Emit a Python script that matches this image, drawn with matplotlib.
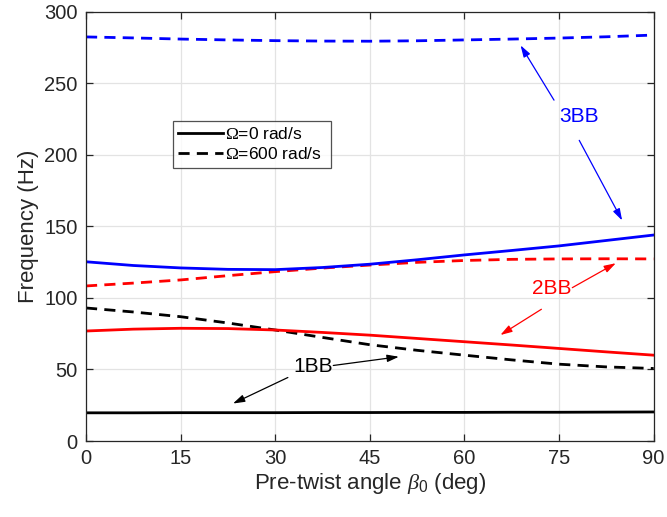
import numpy as np
import matplotlib
matplotlib.use("Agg")
import matplotlib.pyplot as plt

plt.rcParams['font.family'] = ['Liberation Sans', 'DejaVu Sans']
plt.rcParams['mathtext.fontset'] = 'custom'
plt.rcParams['mathtext.rm'] = 'Liberation Serif'
plt.rcParams['mathtext.sf'] = 'Liberation Sans'
plt.rcParams['mathtext.it'] = 'Liberation Serif:italic'

# pre-twist angle (deg)
beta = [0, 7.5, 15, 22.5, 30, 37.5, 45, 52.5, 60, 67.5, 75, 82.5, 90]

# natural frequencies (Hz), Omega = 0 rad/s
bb1_w0 = [19.7, 19.7, 19.8, 19.8, 19.8, 19.9, 19.9, 20.0, 20.0, 20.1, 20.1, 20.2, 20.3]
bb2_w0 = [76.9, 78.2, 78.8, 78.6, 77.6, 75.9, 74.0, 71.7, 69.4, 67.1, 64.7, 62.3, 60.0]
bb3_w0 = [125.3, 122.7, 121.0, 120.0, 119.8, 121.3, 123.6, 126.7, 130.1, 133.2, 136.4, 140.2, 144.0]

# natural frequencies (Hz), Omega = 600 rad/s
bb1_w600 = [93.0, 90.2, 86.9, 82.5, 77.6, 72.4, 67.3, 63.4, 60.0, 56.7, 53.7, 51.8, 50.7]
bb2_w600 = [108.4, 110.4, 112.6, 115.6, 118.4, 120.9, 123.0, 124.9, 126.2, 127.0, 127.3, 127.4, 127.3]
bb3_w600 = [282.5, 281.8, 281.0, 280.4, 279.9, 279.6, 279.5, 279.8, 280.4, 281.0, 281.7, 282.6, 283.8]

x_ticks = [0, 15, 30, 45, 60, 75, 90]
y_ticks = [0, 50, 100, 150, 200, 250, 300]

dark = '#262626'
lw = 2.0
dash = (0, (4, 2.6))

fig = plt.figure(figsize=(6.67, 5.17), dpi=100)
ax = fig.add_axes([0.129, 0.147, 0.851, 0.830])

# legend entries come from the 1BB pair (solid then dashed)
ax.plot(beta, bb1_w0, color='k', lw=lw, label=r'$\mathrm{\Omega}$=0 rad/s')
ax.plot(beta, bb1_w600, color='k', lw=lw, ls=dash, label=r'$\mathrm{\Omega}$=600 rad/s')
ax.plot(beta, bb2_w0, color='r', lw=lw)
ax.plot(beta, bb2_w600, color='r', lw=lw, ls=dash)
ax.plot(beta, bb3_w0, color='b', lw=lw)
ax.plot(beta, bb3_w600, color='b', lw=lw, ls=dash)

ax.set_xlim(0, 90)
ax.set_ylim(0, 300)
ax.set_xticks(x_ticks)
ax.set_yticks(y_ticks)
ax.grid(True, color='#e3e3e3', lw=0.9)
ax.set_axisbelow(True)
ax.tick_params(direction='in', top=True, right=True, length=5, width=0.9,
               colors=dark, labelsize=14.5, pad=6)
for sp in ax.spines.values():
    sp.set_color(dark)
    sp.set_linewidth(0.9)

ax.set_xlabel(r'Pre-twist angle $\beta_{\mathsf{0}}$ (deg)', fontsize=16, color=dark, labelpad=2)
ax.set_ylabel('Frequency (Hz)', fontsize=16, color=dark, labelpad=4)

leg = ax.legend(loc='lower left', bbox_to_anchor=(0.153, 0.637, 0.278, 0.128),
                mode='expand', fontsize=12.5, frameon=True, fancybox=False,
                handlelength=2.6, handletextpad=0.1, borderpad=0.3,
                labelspacing=0.25, borderaxespad=0)
leg.get_frame().set_edgecolor(dark)
leg.get_frame().set_linewidth(0.9)


def arrow(tail, head, color):
    ax.annotate('', xy=head, xytext=tail,
                arrowprops=dict(arrowstyle='-|>,head_length=0.7,head_width=0.22',
                                color=color, lw=0.9, shrinkA=0, shrinkB=0))


# mode labels with arrows
ax.text(78.2, 227, '3BB', color='b', fontsize=15, ha='center', va='center')
arrow((74.2, 238.3), (68.9, 276.6), 'b')
arrow((78.2, 210.2), (85.0, 154.2), 'b')

ax.text(73.8, 106.8, '2BB', color='r', fontsize=15, ha='center', va='center')
arrow((77.1, 107.2), (84.0, 124.3), 'r')
arrow((72.2, 92.1), (65.7, 74.1), 'r')

ax.text(36.0, 51.9, '1BB', color='k', fontsize=15, ha='center', va='center')
arrow((39.2, 52.8), (49.6, 58.9), 'k')
arrow((32.0, 44.4), (23.3, 26.2), 'k')

fig.savefig('out.png', dpi=100)
